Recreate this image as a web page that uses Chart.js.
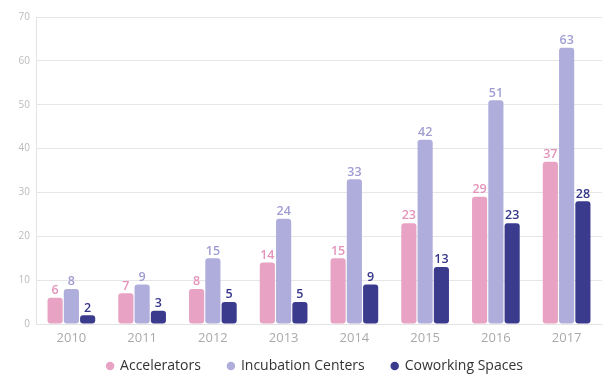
<!DOCTYPE html>
<html>
<head>
<meta charset="utf-8">
<script src="https://cdn.jsdelivr.net/npm/chart.js@4"></script>
<style>
  html, body { margin: 0; padding: 0; background: #fff; }
  #wrap { width: 605px; height: 374px; }
</style>
</head>
<body>
<div id="wrap"><canvas id="chart"></canvas></div>
<script>
// data
const years = ["2010", "2011", "2012", "2013", "2014", "2015", "2016", "2017"];
const accelerators = [6, 7, 8, 14, 15, 23, 29, 37];
const incubation = [8, 9, 15, 24, 33, 42, 51, 63];
const coworking = [2, 3, 5, 5, 9, 13, 23, 28];
const yTicks = [0, 10, 20, 30, 40, 50, 60, 70];

const fontFam = "'Open Sans', 'Noto Sans', sans-serif";

// number over each bar, same color as the bar
const valueLabels = {
    id: "valueLabels",
    afterDatasetsDraw(chart) {
        const ctx = chart.ctx;
        ctx.save();
        ctx.font = "600 12.5px " + fontFam;
        ctx.textAlign = "center";
        ctx.textBaseline = "bottom";
        chart.data.datasets.forEach((ds, i) => {
            chart.getDatasetMeta(i).data.forEach((bar, j) => {
                ctx.fillStyle = ds.labelColor;
                ctx.fillText(ds.data[j], bar.x, bar.y - 1);
            });
        });
        ctx.restore();
    }
};

// legend sits a bit right of centre and closer to the axis than its padding allows
const legendShift = {
    id: "legendShift",
    afterLayout(chart) {
        chart.legend.left += 28;
        chart.legend.top -= 14;
        chart.legend.bottom = chart.height;
    }
};

const chart = new Chart(document.getElementById("chart"), {
    type: "bar",
    data: {
        labels: years,
        datasets: [
            {
                label: "Accelerators",
                data: accelerators,
                backgroundColor: "#e8a3c4",
                labelColor: "#e494bb",
                borderRadius: 3,
                borderSkipped: false
            },
            {
                label: "Incubation Centers",
                data: incubation,
                backgroundColor: "#afaddb",
                labelColor: "#a09dd3",
                borderRadius: 3,
                borderSkipped: false
            },
            {
                label: "Coworking Spaces",
                data: coworking,
                backgroundColor: "#3b3b8d",
                labelColor: "#35358a",
                borderRadius: 3,
                borderSkipped: false
            }
        ]
    },
    options: {
        responsive: true,
        maintainAspectRatio: false,
        animation: false,
        categoryPercentage: 0.69,
        barPercentage: 0.93,
        layout: { padding: { top: 17, right: 3, left: 0, bottom: 4 } },
        scales: {
            x: {
                afterFit: s => { s.height = 22; },
                grid: { display: false, drawTicks: false },
                border: { color: "#e3e3e3" },
                ticks: { color: "#aaaaaa", font: { family: fontFam, size: 13 }, padding: 6 }
            },
            y: {
                min: 0,
                max: 70,
                afterBuildTicks: s => { s.ticks = yTicks.map(v => ({ value: v })); },
                afterFit: s => { s.width = 36; },
                grid: { color: "#e6e6e6", drawTicks: false },
                border: { color: "#e3e3e3" },
                ticks: { color: "#bbbbbb", font: { family: fontFam, size: 10 }, padding: 6 }
            }
        },
        plugins: {
            legend: {
                position: "bottom",
                maxHeight: 24,
                labels: {
                    usePointStyle: true,
                    pointStyle: "circle",
                    boxWidth: 6,
                    boxHeight: 6,
                    padding: 27,
                    color: "#333333",
                    font: { family: fontFam, size: 14 }
                }
            },
            tooltip: { enabled: false }
        }
    },
    plugins: [valueLabels, legendShift]
});
</script>
</body>
</html>
